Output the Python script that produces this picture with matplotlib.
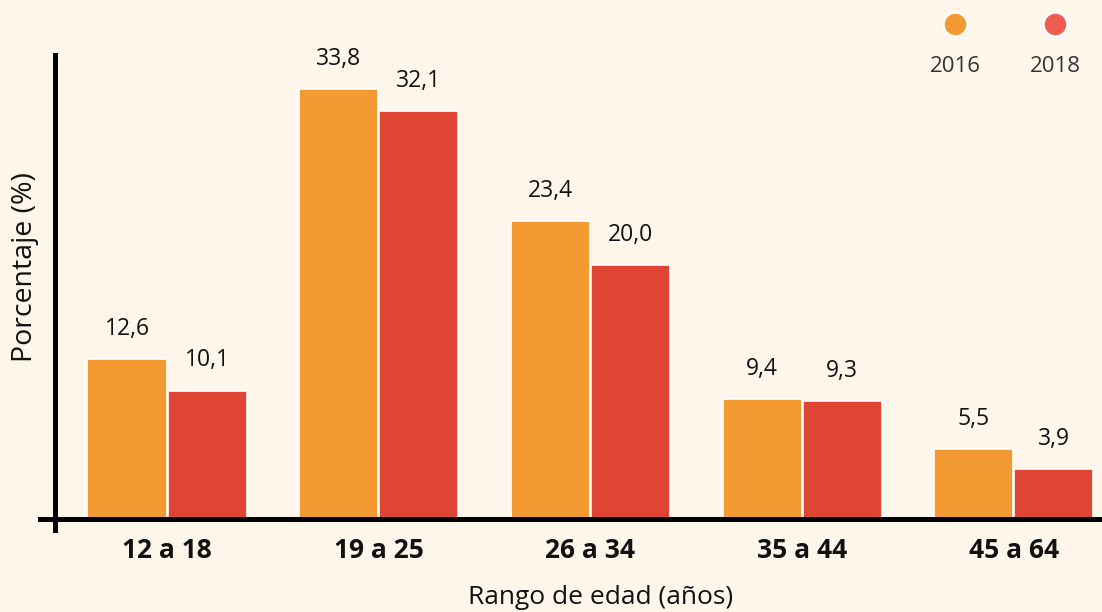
import matplotlib
matplotlib.use("Agg")
import matplotlib.pyplot as plt
from matplotlib.lines import Line2D
import numpy as np

categories = ["12 a 18", "19 a 25", "26 a 34", "35 a 44", "45 a 64"]
series_names = ["2016", "2018"]
values_2016 = [12.6, 33.8, 23.4, 9.4, 5.5]
values_2018 = [10.1, 32.1, 20.0, 9.3, 3.9]

BG = "#FEF6EA"
C16 = "#F39A33"
C18 = "#E04433"
C18_LEG = "#EE5C52"
TXT = "#111111"

plt.rcParams['font.family'] = ['Open Sans', 'DejaVu Sans']

W, H = 1102, 612
fig = plt.figure(figsize=(W/100, H/100), dpi=100, facecolor=BG)
ax = fig.add_axes([40/W, (H-519)/H, (1102-40)/W, (519-55)/H])
ax.set_facecolor(BG)

x = np.arange(len(categories))
c0 = 167.0
step = 211.7
bw = 79/step
off = 40/step
b1 = ax.bar(x - off, values_2016, bw, color=C16, edgecolor="white", linewidth=1.2, zorder=2)
b2 = ax.bar(x + off, values_2018, bw, color=C18, edgecolor="white", linewidth=1.2, zorder=2)

for bars, vals in ((b1, values_2016), (b2, values_2018)):
    for r, v in zip(bars, vals):
        ax.annotate(f"{v:.1f}".replace(".", ","),
                    (r.get_x() + r.get_width()/2, r.get_height()),
                    xytext=(0, 13), textcoords="offset points",
                    ha="center", va="bottom", fontsize=16.5, color=TXT)

ax.set_xlim((40-c0)/step, (1102-c0)/step)
ax.set_ylim(0, 463/12.69)
for s in ax.spines.values():
    s.set_visible(False)
ax.set_yticks([])
ax.set_xticks(x)
ax.set_xticklabels(categories, fontsize=19, fontweight="bold", color=TXT)
ax.tick_params(axis="x", length=0, pad=13)

# axis lines
ax.axhline(0, color="black", linewidth=3.6, zorder=3, clip_on=False)
yx = (55-c0)/step
ax.add_line(Line2D([yx, yx], [-11/12.69, 463/12.69], color="black", linewidth=3.6,
                   clip_on=False, zorder=3))

fig.text(601/W, 1-597/H, "Rango de edad (años)", ha="center", va="center",
         fontsize=19, color=TXT)
fig.text(25/W, 1-267/H, "Porcentaje (%)", ha="center", va="center",
         rotation=90, fontsize=20.5, color=TXT)

# legend
for cx, col, lab in ((955, C16, series_names[0]), (1055, C18_LEG, series_names[1])):
    fig.add_artist(Line2D([cx/W], [1-24/H], marker="o", markersize=17,
                          markerfacecolor=col, markeredgecolor="white",
                          markeredgewidth=1.5, linestyle="none"))
    fig.text(cx/W, 1-66/H, lab, ha="center", va="center", fontsize=16, color="#333333")

fig.savefig("out.png", dpi=100, facecolor=BG)
